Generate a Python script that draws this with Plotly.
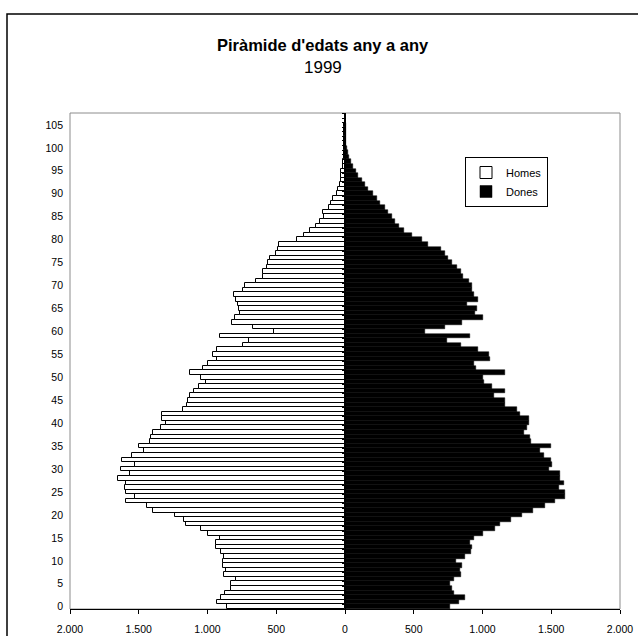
import plotly.graph_objects as go

ages = list(range(0, 108))

homes = [860, 930, 900, 870, 830, 830, 795, 880, 865, 885,
         890, 880, 905, 935, 935, 910, 1000, 1050, 1160, 1170,
         1240, 1400, 1440, 1590, 1530, 1595, 1600, 1590, 1650, 1565,
         1630, 1530, 1625, 1550, 1460, 1500, 1420, 1410, 1400, 1340,
         1300, 1330, 1330, 1180, 1150, 1140, 1130, 1100, 1060, 1010,
         1045, 1130, 1030, 1000, 930, 960, 930, 740, 700, 910,
         520, 670, 825, 800, 765, 770, 780, 790, 810, 740,
         730, 650, 595, 595, 570, 560, 545, 500, 485, 480,
         350, 295, 255, 210, 180, 150, 160, 120, 105, 85,
         60, 50, 35, 30, 30, 30, 15, 12, 10, 8,
         6, 5, 5, 4, 4, 4, 3, 3]

dones = [765, 830, 870, 790, 780, 765, 790, 845, 835, 850,
         805, 875, 915, 925, 910, 935, 1000, 1090, 1130, 1210,
         1290, 1370, 1455, 1530, 1600, 1600, 1555, 1590, 1560, 1565,
         1480, 1505, 1495, 1445, 1420, 1495, 1350, 1345, 1300, 1320,
         1340, 1335, 1275, 1250, 1165, 1160, 1080, 1165, 1070, 1010,
         1005, 1165, 950, 935, 1056, 1045, 970, 840, 740, 910,
         580, 730, 850, 1005, 945, 960, 890, 970, 935, 920,
         920, 900, 860, 840, 815, 780, 750, 730, 700, 600,
         560, 490, 430, 390, 365, 340, 315, 290, 255, 230,
         205, 170, 145, 120, 95, 80, 60, 40, 28, 20,
         12, 8, 6, 5, 4, 4, 3, 3]

x_tickvals = [-2000, -1500, -1000, -500, 0, 500, 1000, 1500, 2000]
x_ticktext = ["2.000", "1.500", "1.000", "500", "0", "500", "1.000", "1.500", "2.000"]
y_tickvals = list(range(0, 106, 5))

title_text = "Piràmide d'edats any a any"
subtitle_text = "1999"

FONT = "Liberation Sans, Arial, sans-serif"

fig = go.Figure()
fig.add_trace(go.Bar(
    y=ages, x=[-v for v in homes], orientation="h", name="Homes",
    marker=dict(color="white", line=dict(color="black", width=1)),
    width=1,
))
fig.add_trace(go.Bar(
    y=ages, x=dones, orientation="h", name="Dones",
    marker=dict(color="black", line=dict(color="black", width=0.5)),
    width=1,
))
# empty trace to hold the central category axis (tick marks at x=0)
fig.add_trace(go.Scatter(x=[], y=[], yaxis="y2", showlegend=False, hoverinfo="skip"))

W, H = 638, 636
L, R, T, B = 70, 18, 113, 27
pw, ph = W - L - R, H - T - B
ybot = H - B  # pixel y of plot bottom

fig.update_layout(
    width=W, height=H, autosize=False,
    margin=dict(l=L, r=R, t=T, b=B, pad=0, autoexpand=False),
    paper_bgcolor="white", plot_bgcolor="white",
    barmode="overlay", bargap=0,
    font=dict(family=FONT, size=11, color="black"),
    showlegend=True,
    legend=dict(
        x=(465 - L) / pw, y=(ybot - 157) / ph, xanchor="left", yanchor="top",
        bordercolor="black", borderwidth=1, bgcolor="white",
        font=dict(family=FONT, size=11, color="black"),
        itemwidth=30, tracegroupgap=0,
    ),
    xaxis=dict(
        range=[-2000, 2000], tickvals=x_tickvals, ticktext=x_ticktext,
        showgrid=False, zeroline=True, zerolinecolor="black", zerolinewidth=1,
        showline=True, linecolor="black", linewidth=1,
        ticks="outside", ticklen=4, tickcolor="black",
        tickfont=dict(family=FONT, size=10.5, color="black"),
        ticklabelstandoff=6, automargin=False,
        fixedrange=True,
    ),
    yaxis=dict(
        range=[-0.5, 107.6], tickvals=y_tickvals,
        showgrid=False, zeroline=False, showline=False, ticks="",
        tickfont=dict(family=FONT, size=10.5, color="black"),
        ticklabelstandoff=6, automargin=False,
    ),
    yaxis2=dict(
        range=[-0.5, 107.6], overlaying="y", anchor="free", position=0.5,
        side="left", showline=True, linecolor="black", linewidth=1,
        ticks="outside", ticklen=3, tickcolor="black", dtick=1, tick0=-0.5,
        showticklabels=False, showgrid=False, zeroline=False, automargin=False,
    ),
    shapes=[
        dict(type="rect", xref="paper", yref="paper", x0=0, x1=1, y0=0, y1=1,
             line=dict(color="#8c8c8c", width=1), layer="below"),
        dict(type="rect", xref="paper", yref="paper",
             x0=(7 - L) / pw, x1=(W + 10 - L) / pw,
             y0=(ybot - (H + 10)) / ph, y1=(ybot - 14) / ph,
             line=dict(color="black", width=1.5), layer="below"),
    ],
    annotations=[
        dict(text="<b>" + title_text + "</b>", xref="paper", yref="paper",
             x=(323 - L) / pw, y=(ybot - 45) / ph, xanchor="center", yanchor="middle",
             showarrow=False, font=dict(family=FONT, size=16.5, color="black")),
        dict(text=subtitle_text, xref="paper", yref="paper",
             x=(323 - L) / pw, y=(ybot - 68) / ph, xanchor="center", yanchor="middle",
             showarrow=False, font=dict(family=FONT, size=17, color="black")),
    ],
)

fig.write_html(
    "out.html",
    config={"displayModeBar": False},
    post_script="document.body.style.margin='0';document.body.style.overflow='hidden';",
)
